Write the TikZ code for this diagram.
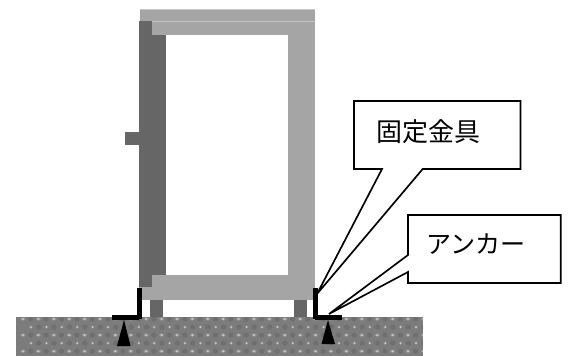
\documentclass[tikz,border=0pt]{standalone}
\usepackage{fontspec}
\newfontfamily\cjk{Noto Sans CJK JP}
\definecolor{frameLight}{HTML}{A5A5A5}
\definecolor{frameDark}{HTML}{666666}
\definecolor{groundGray}{HTML}{7C7C7C}
\tikzset{
  light/.style={fill=frameLight,draw=none},
  dark/.style={fill=frameDark,draw=none},
  metal/.style={fill=black,draw=none},
  callout/.style={draw=black,fill=white,line width=1.25pt,line join=miter},
  calltext/.style={font=\cjk\fontsize{19.5}{21}\selectfont,inner sep=0pt,text=black},
  calltextb/.style={font=\cjk\fontsize{18.8}{21}\selectfont,inner sep=0pt,text=black}
}
\begin{document}
\begin{tikzpicture}[x=0.75pt,y=-0.75pt]
\useasboundingbox (0,0) rectangle (568,356);
% ground
\fill[groundGray] (16,317) rectangle (423,356);
\begin{scope}
\clip (16,317) rectangle (423,356);
\foreach \r in {0,...,5}{
  \pgfmathsetmacro{\yy}{319+8.05*\r}
  \pgfmathsetmacro{\off}{mod(\r,2)==0 ? 23 : 31}
  \pgfmathsetmacro{\rw}{mod(\r,2)==0 ? 1.5 : 1.1}
  \foreach \c in {0,...,27}{
    \fill[black,opacity=0.10] (\off+15.4*\c+7.7,\yy) circle (2.6);
    \fill[white,opacity=0.18] (\off+15.4*\c,\yy) ellipse [x radius=\rw*1.7,y radius=1.7];
    \fill[white,opacity=0.50] (\off+15.4*\c,\yy) ellipse [x radius=\rw*0.9,y radius=1.0];
  }
}
\end{scope}
% cabinet
\fill[dark] (139,21) rectangle (166,288);
\fill[dark] (125,132.5) rectangle (139,145.5);
\fill[light] (139.5,9) rectangle (315,21);
\fill[light] (152,21.5) rectangle (315,35);
\draw[white!35!frameLight,line width=0.5pt] (139.5,9.2) -- (315,9.2) (152,21.2) -- (315,21.2);
\fill[light] (288,35) rectangle (315,300);
\fill[light] (152,275) rectangle (288,300);
\fill[light] (139,287) rectangle (152,300);
% legs
\fill[dark] (149.5,300) rectangle (163,317);
\fill[dark] (294,300) rectangle (307,317);
% brackets
\fill[metal] (136.5,288) rectangle (142,319);
\fill[metal] (112,315) rectangle (139,320);
\fill[metal] (312.5,288) rectangle (318,319);
\fill[metal] (315,315) rectangle (342,320);
% anchors
\fill[metal] (124,320) -- (130.5,346) -- (117,346) -- cycle;
\fill[metal] (328,320) -- (335,344) -- (321.5,344) -- cycle;
% callouts
\draw[callout] (354,101) -- (520.5,101) -- (520.5,169) -- (422.7,169) -- (317,294) -- (382,169) -- (354,169) -- cycle;
\node[calltext] (kanagu) at (428,131.5) {固定金具};
\draw[callout] (408,215) -- (560.7,215) -- (560.7,283) -- (408,283) -- (408,272) -- (329,314) -- (408,255) -- cycle;
\node[calltextb] (anchor) at (476,244) {アンカー};
\end{tikzpicture}
\end{document}
